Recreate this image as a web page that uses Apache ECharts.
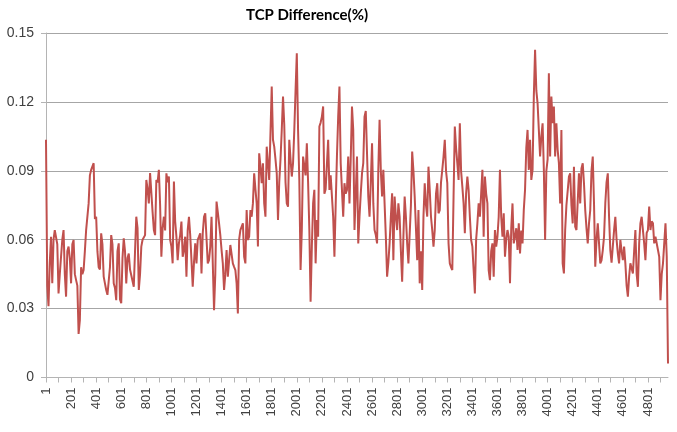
<!DOCTYPE html>
<html>
<head>
<meta charset="utf-8">
<script src="https://cdn.jsdelivr.net/npm/echarts@6/dist/echarts.min.js"></script>
<style>
  html, body { margin: 0; padding: 0; background: #fff; }
  #chart-container { width: 677px; height: 432px; }
</style>
</head>
<body>
<div id="chart-container"></div>
<script>
// one reading every 10 samples (5 stretches of ~1000 samples)
var stepSize = 10;
var tcpDiff1 = [
  0.1035, 0.040, 0.031, 0.0497, 0.0613, 0.041, 0.060, 0.0642, 0.0642, 0.058,
  0.0366, 0.045, 0.0526, 0.060, 0.0642, 0.045, 0.0352, 0.055, 0.057, 0.052,
  0.041, 0.058, 0.0599, 0.045, 0.0424, 0.040, 0.019, 0.025, 0.048, 0.045,
  0.0468, 0.055, 0.0642, 0.065, 0.0758, 0.088, 0.0904, 0.091, 0.0933, 0.069,
  0.070, 0.055, 0.048, 0.047, 0.0628, 0.058, 0.0439, 0.041, 0.0381, 0.036,
  0.0352, 0.048, 0.062, 0.058, 0.041, 0.039, 0.0337, 0.055, 0.0584, 0.034,
  0.0323, 0.052, 0.0606, 0.055, 0.041, 0.052, 0.054, 0.047, 0.0468, 0.042,
  0.0395, 0.055, 0.070, 0.065, 0.0381, 0.045, 0.057, 0.060, 0.0599, 0.062,
  0.086, 0.082, 0.0758, 0.089, 0.0889, 0.072, 0.0642, 0.062, 0.086, 0.085,
  0.0904, 0.075, 0.0526, 0.065, 0.070, 0.064, 0.0889, 0.085, 0.0875, 0.060
];
var tcpDiff2 = [
  0.057, 0.0497, 0.0853, 0.068, 0.0613, 0.0511, 0.0584, 0.062, 0.0679, 0.0526,
  0.0555, 0.0613, 0.0439, 0.0642, 0.070, 0.062, 0.0511, 0.0395, 0.05, 0.0584,
  0.0497, 0.0599, 0.0613, 0.0628, 0.0453, 0.0628, 0.070, 0.0715, 0.0715, 0.0497,
  0.0511, 0.057, 0.070, 0.070, 0.0293, 0.045, 0.0766, 0.072, 0.0671, 0.062,
  0.0555, 0.0497, 0.0381, 0.045, 0.0555, 0.0439, 0.0439, 0.0577, 0.0584, 0.0497,
  0.0482, 0.0468, 0.041, 0.0279, 0.06, 0.0642, 0.0642, 0.0671, 0.0526, 0.0497,
  0.0729, 0.0599, 0.0613, 0.0729, 0.070, 0.0758, 0.0889, 0.082, 0.0758, 0.057,
  0.0976, 0.092, 0.0846, 0.0933, 0.0758, 0.07, 0.1005, 0.0933, 0.086, 0.086,
  0.1267, 0.1035, 0.1005, 0.095, 0.0889, 0.0686, 0.085, 0.095, 0.1078, 0.1223,
  0.11, 0.085, 0.0758, 0.0744, 0.1035, 0.095, 0.0875, 0.0933, 0.1078, 0.125
];
var tcpDiff3 = [
  0.1412, 0.1078, 0.086, 0.0468, 0.0642, 0.0962, 0.0962, 0.088, 0.102, 0.085,
  0.0642, 0.033, 0.057, 0.0758, 0.0817, 0.0497, 0.0686, 0.0613, 0.1093, 0.111,
  0.1136, 0.118, 0.08, 0.082, 0.0817, 0.1035, 0.0817, 0.088, 0.0875, 0.070,
  0.0526, 0.075, 0.0962, 0.1136, 0.1267, 0.0933, 0.0817, 0.070, 0.0846, 0.08,
  0.0817, 0.0962, 0.0758, 0.095, 0.118, 0.1078, 0.0642, 0.08, 0.0962, 0.0584,
  0.07, 0.08, 0.0889, 0.0933, 0.1136, 0.116, 0.1165, 0.0788, 0.070, 0.085,
  0.102, 0.0758, 0.0642, 0.062, 0.0584, 0.0904, 0.1122, 0.09, 0.0788, 0.0904,
  0.0904, 0.0613, 0.0439, 0.05, 0.0584, 0.07, 0.0802, 0.0511, 0.0788, 0.07,
  0.0642, 0.0758, 0.070, 0.055, 0.0417, 0.0613, 0.0788, 0.07, 0.0584, 0.0497,
  0.0497, 0.075, 0.0984, 0.09, 0.0788, 0.065, 0.0511, 0.0729, 0.041, 0.055
];
var tcpDiff4 = [
  0.0381, 0.070, 0.0846, 0.075, 0.070, 0.0918, 0.0817, 0.07, 0.0642, 0.057,
  0.0642, 0.08, 0.0846, 0.0715, 0.0729, 0.085, 0.0904, 0.0962, 0.1035, 0.09,
  0.0846, 0.0584, 0.0497, 0.048, 0.0468, 0.0788, 0.1093, 0.1, 0.0933, 0.086,
  0.1107, 0.09, 0.0831, 0.0758, 0.0628, 0.08, 0.0875, 0.0817, 0.070, 0.06,
  0.057, 0.0468, 0.0366, 0.06, 0.0671, 0.0758, 0.070, 0.08, 0.0904, 0.0613,
  0.0875, 0.08, 0.0758, 0.0468, 0.0424, 0.055, 0.0584, 0.0439, 0.0642, 0.057,
  0.0613, 0.070, 0.0904, 0.07, 0.0613, 0.0715, 0.0526, 0.06, 0.0642, 0.0613,
  0.041, 0.065, 0.0758, 0.0584, 0.0613, 0.065, 0.0555, 0.0671, 0.054, 0.064,
  0.0584, 0.0729, 0.0817, 0.1, 0.1078, 0.0904, 0.1035, 0.086, 0.0904, 0.1223,
  0.1427, 0.125, 0.1194, 0.1078, 0.0962, 0.105, 0.1107, 0.0904, 0.0599, 0.09
];
var tcpDiff5 = [
  0.095, 0.1325, 0.0962, 0.1223, 0.1107, 0.118, 0.0962, 0.1107, 0.0991, 0.0933,
  0.0758, 0.1078, 0.0497, 0.0453, 0.0642, 0.075, 0.0758, 0.0875, 0.0889, 0.075,
  0.0671, 0.0918, 0.0657, 0.0642, 0.0642, 0.0889, 0.0758, 0.091, 0.0933, 0.0846,
  0.0729, 0.065, 0.0584, 0.0671, 0.0729, 0.09, 0.0962, 0.0758, 0.0482, 0.06,
  0.0671, 0.0584, 0.0497, 0.051, 0.0555, 0.0613, 0.0758, 0.085, 0.0889, 0.070,
  0.0555, 0.05, 0.0497, 0.0642, 0.070, 0.06, 0.054, 0.0497, 0.0599, 0.055,
  0.0511, 0.057, 0.0497, 0.04, 0.0352, 0.0439, 0.0497, 0.05, 0.0453, 0.055,
  0.0642, 0.045, 0.0395, 0.0584, 0.0671, 0.07, 0.070, 0.0584, 0.0511, 0.063,
  0.0642, 0.0744, 0.0642, 0.068, 0.0671, 0.0584, 0.0613, 0.062, 0.0555, 0.0526,
  0.0337, 0.045, 0.0497, 0.0497, 0.0671, 0.0526, 0.0061
];
var yTicks = [0, 0.03, 0.06, 0.09, 0.12, 0.15];

var tcpDiff = tcpDiff1.concat(tcpDiff2, tcpDiff3, tcpDiff4, tcpDiff5);
var samples = [];
for (let i = 0; i < tcpDiff.length; i++) {
  samples.push(String(1 + i * stepSize));
}

var dom = document.getElementById('chart-container');
var myChart = echarts.init(dom, null, {
  renderer: 'canvas',
  useDirtyRect: false
});

var option;

option = {
  animation: false,
  backgroundColor: '#ffffff',
  title: {
    text: 'TCP Difference(%)',
    left: 241,
    top: 3,
    textStyle: {
      fontFamily: 'Lato',
      fontWeight: 'bold',
      fontSize: 15,
      color: '#000000'
    }
  },
  grid: {
    left: 46,
    right: 9,
    top: 33,
    bottom: 54.5,
    containLabel: false
  },
  xAxis: {
    type: 'category',
    data: samples,
    boundaryGap: false,
    axisLine: { lineStyle: { color: '#b4b4b4', width: 1 } },
    axisTick: { show: true, interval: 9, length: 5, lineStyle: { color: '#b4b4b4' } },
    axisLabel: {
      interval: 19,
      rotate: 90,
      margin: 10,
      fontFamily: 'Liberation Sans',
      fontSize: 13,
      color: '#404040'
    },
    splitLine: { show: false }
  },
  yAxis: {
    type: 'value',
    min: yTicks[0],
    max: yTicks[yTicks.length - 1],
    interval: 0.03,
    axisLine: { show: true, lineStyle: { color: '#b4b4b4', width: 1 } },
    axisTick: { show: true, length: 5, lineStyle: { color: '#b4b4b4' } },
    axisLabel: {
      margin: 12,
      fontFamily: 'Liberation Sans',
      fontSize: 14,
      color: '#404040',
      formatter: function (v) { return String(+v.toFixed(2)); }
    },
    splitLine: { show: true, lineStyle: { color: '#a6a6a6', width: 1 } }
  },
  series: [
    {
      name: 'TCP Difference(%)',
      type: 'line',
      data: tcpDiff,
      showSymbol: false,
      symbol: 'none',
      lineStyle: { color: '#c0504d', width: 2 },
      itemStyle: { color: '#c0504d' }
    }
  ]
};

if (option && typeof option === 'object') {
  myChart.setOption(option);
}

window.addEventListener('resize', myChart.resize);
</script>
</body>
</html>
